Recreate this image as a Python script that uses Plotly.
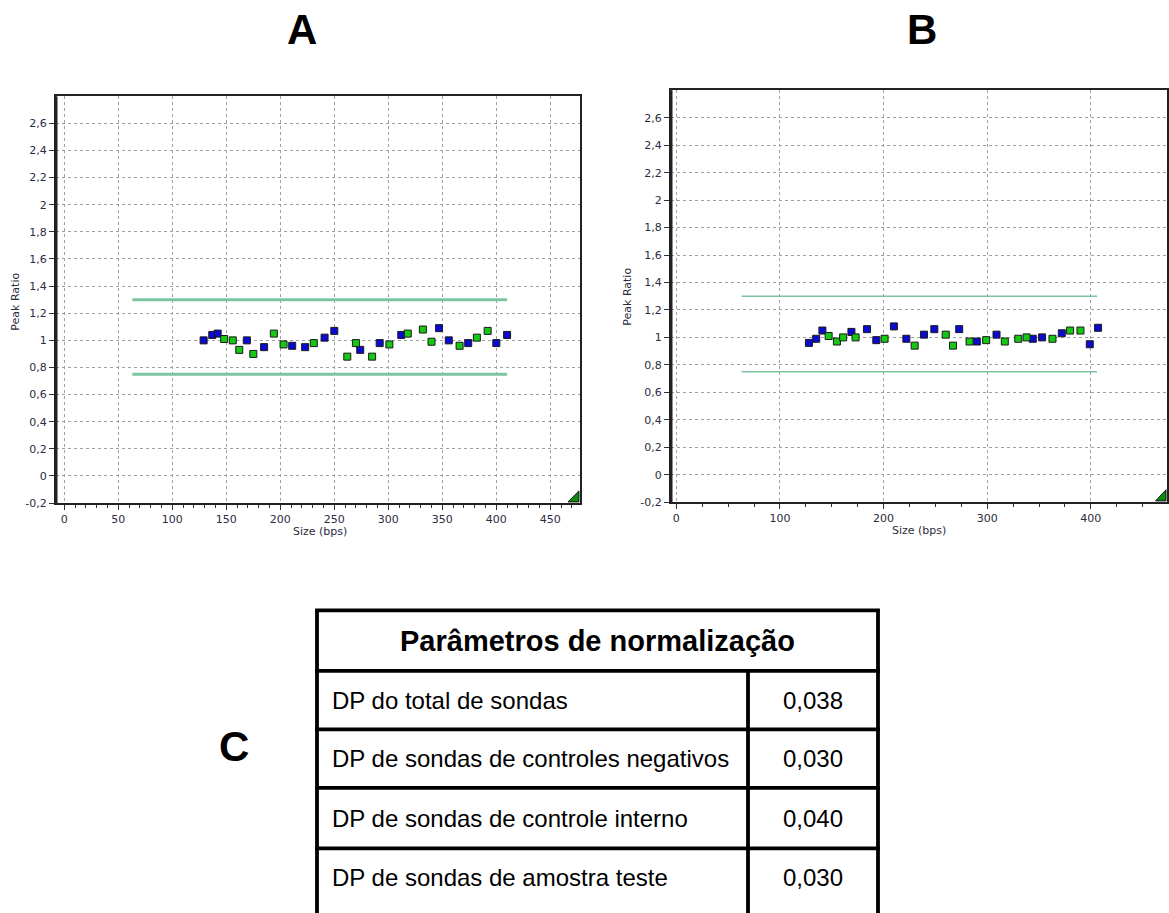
import plotly.graph_objects as go

# ---------------- data ----------------
# Panel A
a_blue_size = [129, 137, 142, 169, 185, 211, 223, 241, 250, 274, 292, 312, 347, 356, 374, 400, 410]
a_blue_ratio = [1.00, 1.04, 1.05, 1.00, 0.95, 0.96, 0.95, 1.02, 1.07, 0.93, 0.98, 1.04, 1.09, 1.00, 0.98, 0.98, 1.04]
a_green_size = [148, 156, 162, 175, 194, 203, 231, 262, 270, 285, 301, 318, 332, 340, 366, 382, 392]
a_green_ratio = [1.01, 1.00, 0.93, 0.90, 1.05, 0.97, 0.98, 0.88, 0.98, 0.88, 0.97, 1.05, 1.08, 0.99, 0.96, 1.02, 1.07]
a_limit_size = [63, 410]

# Panel B
b_blue_size = [128, 135, 141, 169, 184, 193, 210, 222, 239, 249, 273, 290, 309, 344, 353, 372, 399, 407]
b_blue_ratio = [0.96, 0.99, 1.05, 1.04, 1.06, 0.98, 1.08, 0.99, 1.02, 1.06, 1.06, 0.97, 1.02, 0.99, 1.00, 1.03, 0.95, 1.07]
b_green_size = [147, 155, 161, 173, 201, 230, 260, 267, 283, 299, 317, 330, 338, 363, 380, 390]
b_green_ratio = [1.01, 0.97, 1.00, 1.00, 0.99, 0.94, 1.02, 0.94, 0.97, 0.98, 0.97, 0.99, 1.00, 0.99, 1.05, 1.05]
b_limit_size = [63, 406]

upper_limit = 1.3
lower_limit = 0.75

y_tickvals = [-0.2, 0, 0.2, 0.4, 0.6, 0.8, 1, 1.2, 1.4, 1.6, 1.8, 2, 2.2, 2.4, 2.6]
y_ticktext = ["-0,2", "0", "0,2", "0,4", "0,6", "0,8", "1", "1,2", "1,4", "1,6", "1,8", "2", "2,2", "2,4", "2,6"]
a_x_ticks = [0, 50, 100, 150, 200, 250, 300, 350, 400, 450]
b_x_ticks = [0, 100, 200, 300, 400]

table_header = "Parâmetros de normalização"
table_labels = ["DP do total de sondas",
                "DP de sondas de controles negativos",
                "DP de sondas de controle interno",
                "DP de sondas de amostra teste"]
table_values = ["0,038", "0,030", "0,040", "0,030"]

# ---------------- layout helpers ----------------
W, H = 1169, 913
def px(x):
    return x / W
def py(y):
    return 1 - y / H

BLUE = "#0a0ad0"
GREEN = "#14c814"
LIMIT = "#7cc4a0"
TICKFONT = dict(family="DejaVu Sans", size=11, color="#2c2c40")

fig = go.Figure()

def add_panel(xa, ya, blue_x, blue_y, green_x, green_y, lim_x, lim_w):
    for yv in (upper_limit, lower_limit):
        fig.add_trace(go.Scatter(x=lim_x, y=[yv, yv], mode="lines",
                                 line=dict(color=LIMIT, width=lim_w),
                                 xaxis=xa, yaxis=ya, hoverinfo="skip", showlegend=False))
    for xs, ys, c in ((blue_x, blue_y, BLUE), (green_x, green_y, GREEN)):
        fig.add_trace(go.Scatter(x=xs, y=ys, mode="markers",
                                 marker=dict(symbol="square", size=7, color=c,
                                             line=dict(color="#1a1a1a", width=1)),
                                 xaxis=xa, yaxis=ya, showlegend=False))

add_panel("x", "y", a_blue_size, a_blue_ratio, a_green_size, a_green_ratio, a_limit_size, 3)
add_panel("x2", "y2", b_blue_size, b_blue_ratio, b_green_size, b_green_ratio, b_limit_size, 1.6)

axis_common = dict(showgrid=True, gridcolor="#a0a0a0", griddash="3px,3px", gridwidth=1,
                   zeroline=False, showline=True, mirror=True, linecolor="#222222",
                   ticks="outside", tickcolor="#333333", tickfont=TICKFONT)

fig.update_layout(
    width=W, height=H,
    margin=dict(l=0, r=0, t=0, b=0),
    plot_bgcolor="white", paper_bgcolor="white",
    showlegend=False,
    xaxis=dict(domain=[px(56), px(580)], range=[-7.7, 477.5], anchor="y",
               tickvals=a_x_ticks, ticktext=[str(v) for v in a_x_ticks], ticklen=5,
               linewidth=2, minor=dict(ticks="outside", ticklen=3, dtick=10, tickcolor="#333333", showgrid=False),
               **axis_common),
    yaxis=dict(domain=[py(507), py(97)], range=[-0.2, 2.8], anchor="x",
               tickvals=y_tickvals, ticktext=y_ticktext, ticklen=5, linewidth=2,
               **axis_common),
    xaxis2=dict(domain=[px(671), px(1167)], range=[-5.1, 473.5], anchor="y2",
                tickvals=b_x_ticks, ticktext=[str(v) for v in b_x_ticks], ticklen=5,
                linewidth=2, minor=dict(ticks="outside", ticklen=3, dtick=25, tickcolor="#333333", showgrid=False),
                **axis_common),
    yaxis2=dict(domain=[py(506), py(91)], range=[-0.2, 2.8], anchor="x2",
                tickvals=y_tickvals, ticktext=y_ticktext, ticklen=5, linewidth=2,
                **axis_common),
)

shapes = []
# thicker left axis lines
for xa, ya in (("x", "y"), ("x2", "y2")):
    shapes.append(dict(type="line", xref=xa + " domain", yref=ya + " domain",
                       x0=0, x1=0, y0=0, y1=1, line=dict(color="#222222", width=3)))
    # small green corner triangle
    shapes.append(dict(type="path", xref=xa + " domain", yref=ya + " domain",
                       path="M 0.977 0.003 L 0.998 0.003 L 0.998 0.03 Z",
                       fillcolor="#0b8a0b", line=dict(color="#111111", width=1)))

# table geometry
t_left, t_right, t_div = 317, 878, 748
row_lines = [615, 676, 735, 794, 855]
t_bottom = 940
LW = 3.8
shapes.append(dict(type="line", xref="paper", yref="paper", x0=px(t_left), x1=px(t_left),
                   y0=py(row_lines[0]), y1=py(t_bottom), line=dict(color="black", width=LW)))
shapes.append(dict(type="line", xref="paper", yref="paper", x0=px(t_right), x1=px(t_right),
                   y0=py(row_lines[0]), y1=py(t_bottom), line=dict(color="black", width=LW)))
shapes.append(dict(type="line", xref="paper", yref="paper", x0=px(t_div), x1=px(t_div),
                   y0=py(row_lines[1]), y1=py(t_bottom), line=dict(color="black", width=LW)))
for yl in row_lines:
    shapes.append(dict(type="line", xref="paper", yref="paper", x0=px(t_left - 1.9), x1=px(t_right + 1.9),
                       y0=py(yl), y1=py(yl), line=dict(color="black", width=LW)))
fig.update_layout(shapes=shapes)

ann = []
def text(x, y, s, size, bold=False, xanchor="center", family="Liberation Sans", color="black", angle=0):
    ann.append(dict(x=px(x), y=py(y), xref="paper", yref="paper", text=("<b>%s</b>" % s) if bold else s,
                    showarrow=False, xanchor=xanchor, yanchor="middle", textangle=angle,
                    font=dict(family=family, size=size, color=color)))

# panel letters
text(302, 30, "A", 42, bold=True)
text(922, 30, "B", 42, bold=True)
text(234, 752, "C", 42, bold=True)

# axis titles
text(16, 304, "Peak Ratio", 11, family="DejaVu Sans", color="#2c2c40", angle=-90)
text(320, 536, "Size (bps)", 11, family="DejaVu Sans", color="#2c2c40")
text(628, 299, "Peak Ratio", 11, family="DejaVu Sans", color="#2c2c40", angle=-90)
text(919, 535, "Size (bps)", 11, family="DejaVu Sans", color="#2c2c40")

# table text
text((t_left + t_right) / 2, (row_lines[0] + row_lines[1]) / 2, table_header, 29, bold=True)
row_centers = [(row_lines[i] + row_lines[i + 1]) / 2 for i in range(1, 4)] + [884]
for lab, val, yc in zip(table_labels, table_values, row_centers):
    text(330, yc, lab, 24, xanchor="left")
    text((t_div + t_right) / 2, yc, val, 24)

fig.update_layout(annotations=ann)
fig.write_html("out.html")
